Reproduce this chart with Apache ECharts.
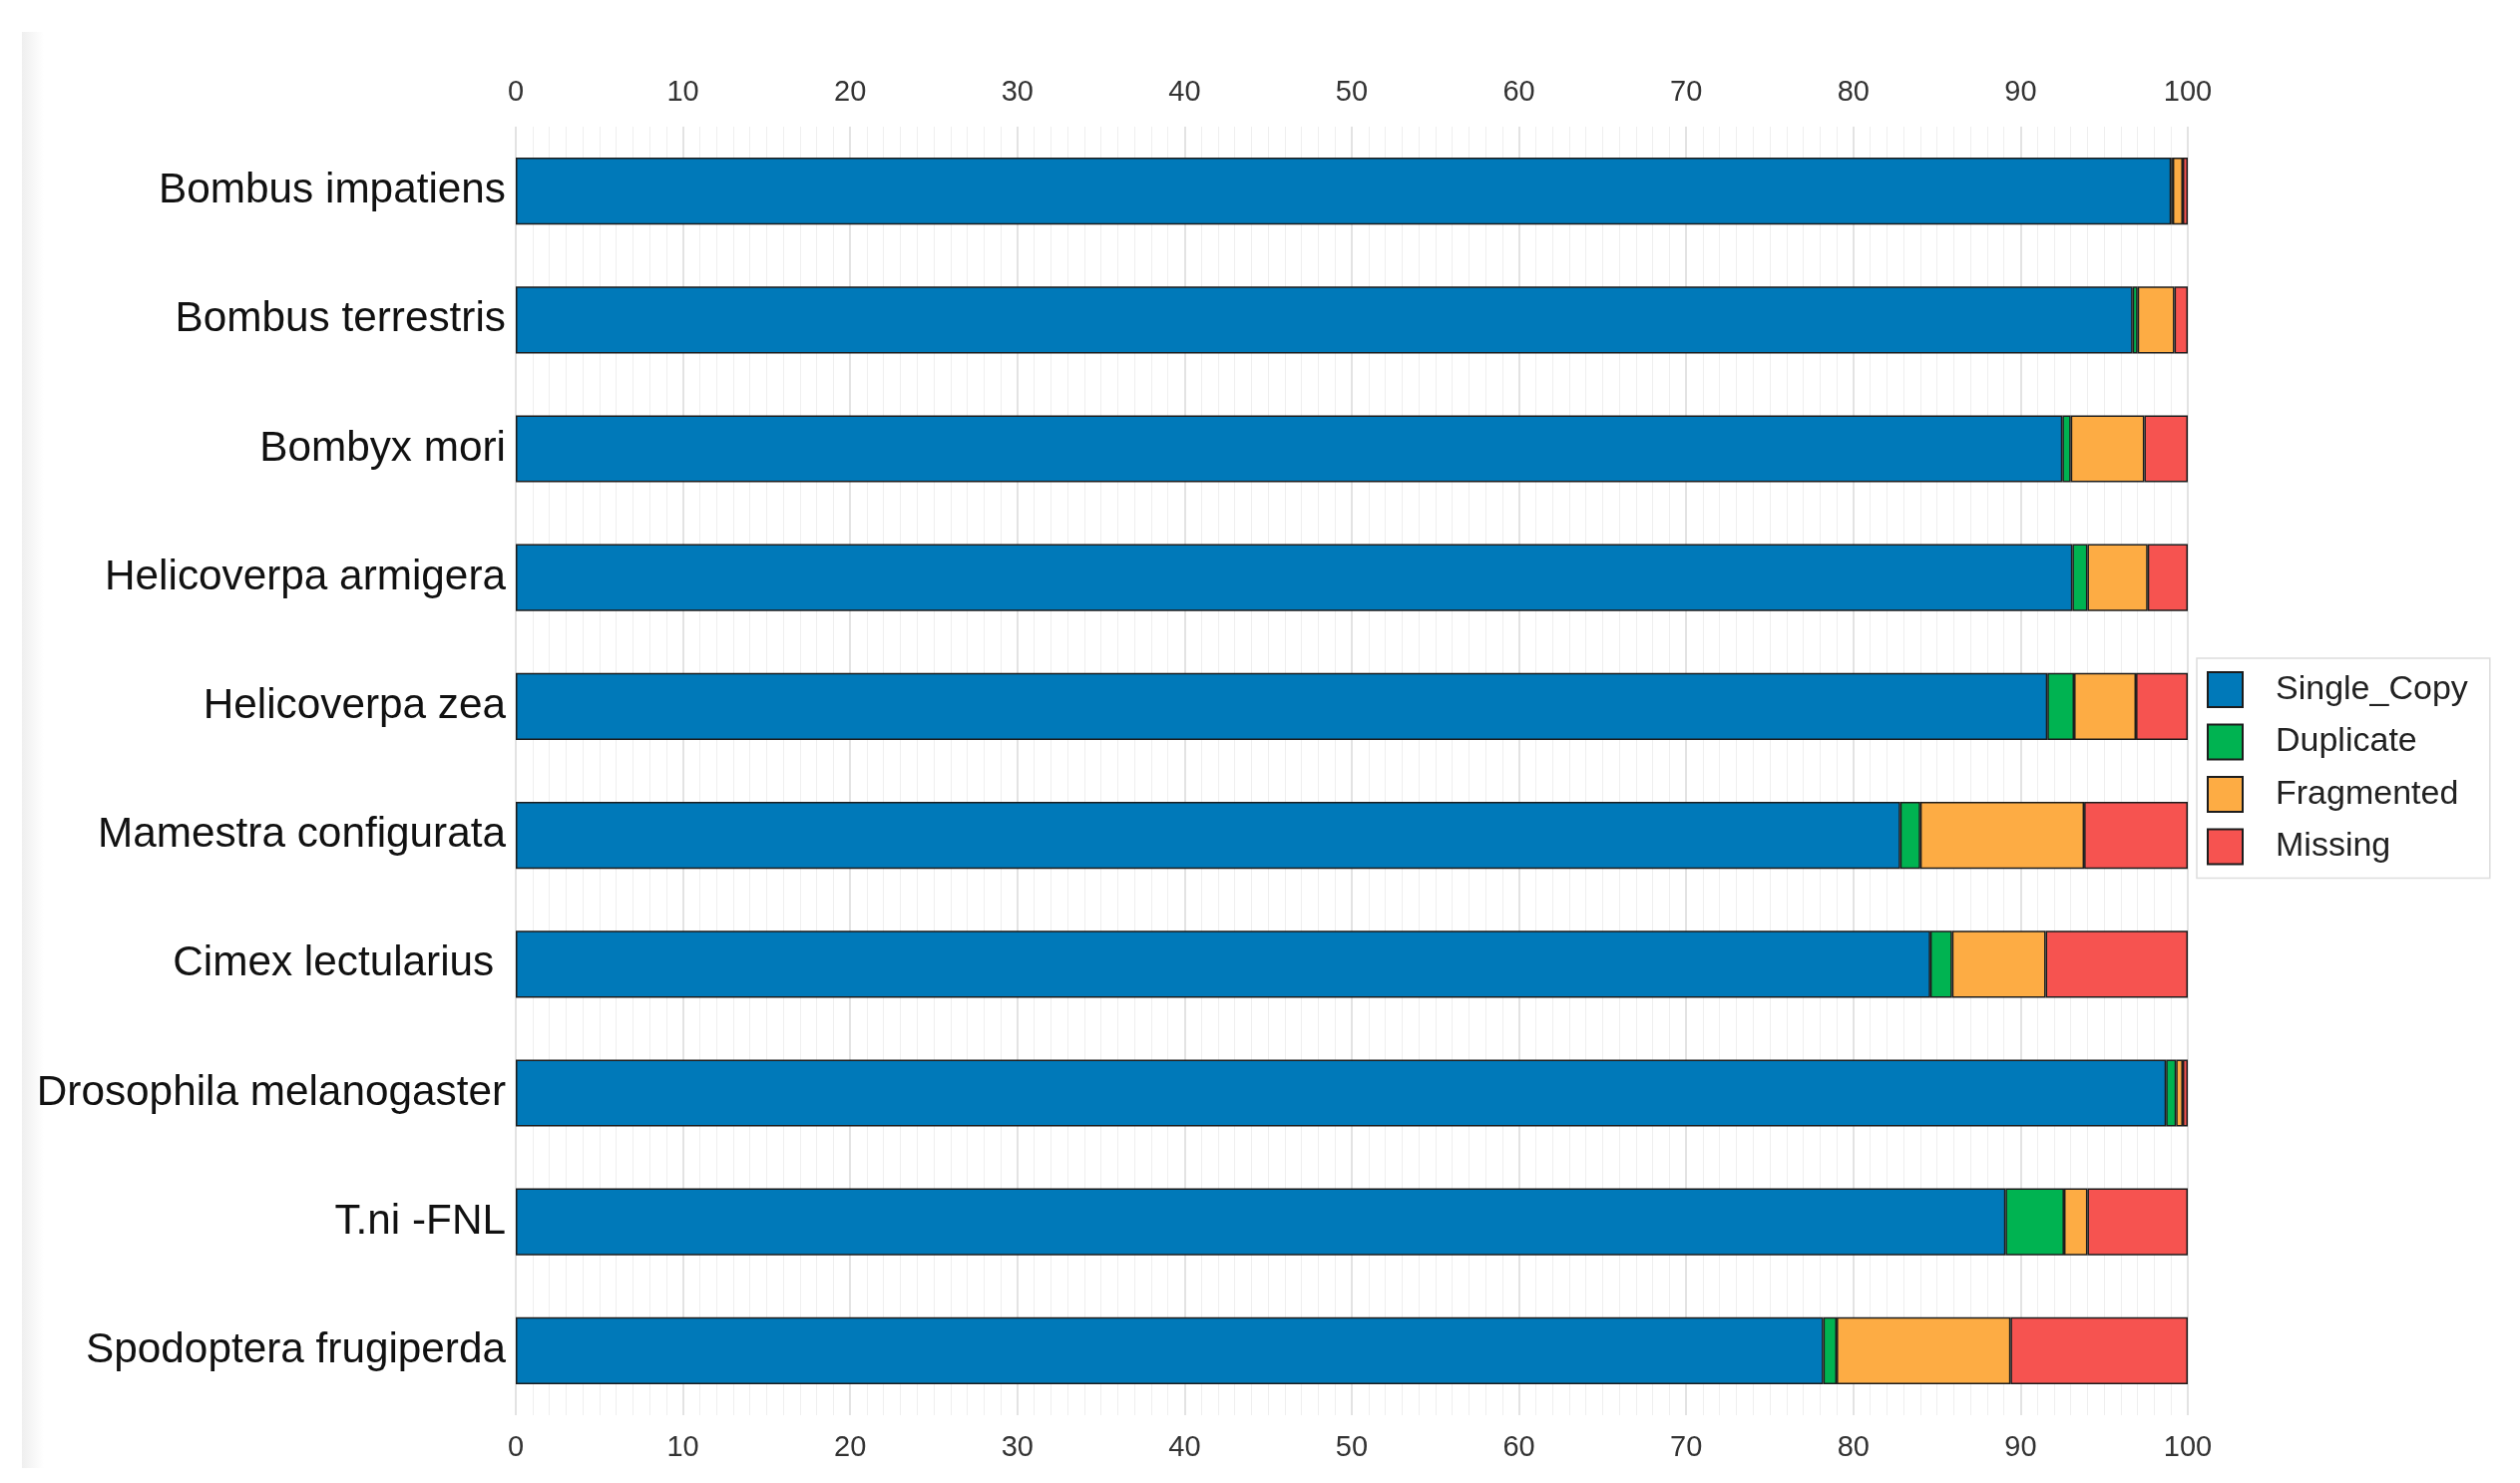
<!DOCTYPE html>
<html>
<head>
<meta charset="utf-8">
<script src="https://cdn.jsdelivr.net/npm/echarts@6/dist/echarts.min.js"></script>
<style>
  html, body { margin: 0; padding: 0; background: #fff; }
  #main { width: 2526px; height: 1487px; }
</style>
</head>
<body>
<div id="main"></div>
<script>
// species (top to bottom)
var species = ['Bombus impatiens', 'Bombus terrestris', 'Bombyx mori', 'Helicoverpa armigera',
  'Helicoverpa zea', 'Mamestra configurata', 'Cimex lectularius ', 'Drosophila melanogaster',
  'T.ni -FNL', 'Spodoptera frugiperda'];

// BUSCO percentages
var singleCopy = [99.0, 96.7, 92.5, 93.1, 91.6, 82.8, 84.6, 98.7, 89.1, 78.2];
var duplicate  = [0.1, 0.3, 0.5, 0.9, 1.6, 1.2, 1.3, 0.6, 3.5, 0.8];
var fragmented = [0.6, 2.2, 4.4, 3.6, 3.7, 9.8, 5.6, 0.4, 1.4, 10.4];
var missing    = [0.3, 0.8, 2.6, 2.4, 3.1, 6.2, 8.5, 0.3, 6.0, 10.6];

var seriesNames = ['Single_Copy', 'Duplicate', 'Fragmented', 'Missing'];
var colors = ['#0079B9', '#00B351', '#FDAC44', '#F65350'];

var chart = echarts.init(document.getElementById('main'));

function makeBar(name, data, color) {
  return {
    name: name,
    type: 'bar',
    stack: 'busco',
    xAxisIndex: 1,
    barWidth: '52%',
    data: data,
    itemStyle: { color: color, borderColor: '#1c1c1c', borderWidth: 1.5 }
  };
}

var tickFont = { fontFamily: 'Liberation Sans', fontSize: 29, color: '#333' };

option = {
  backgroundColor: '#fff',
  animation: false,
  color: colors,
  graphic: [{
    type: 'rect',
    shape: { x: 22, y: 32, width: 22, height: 1440 },
    style: {
      fill: new echarts.graphic.LinearGradient(0, 0, 1, 0, [
        { offset: 0, color: '#efefef' },
        { offset: 1, color: '#ffffff' }
      ])
    },
    z: -10
  }],
  grid: { left: 517, right: 333, top: 127, bottom: 68, containLabel: false },
  legend: {
    orient: 'vertical',
    left: 2202,
    top: 660,
    padding: [13, 22, 13, 10],
    icon: 'rect',
    itemWidth: 35,
    itemHeight: 35,
    itemGap: 15.5,
    borderColor: '#dddddd',
    borderWidth: 1.5,
    data: seriesNames,
    textStyle: { fontFamily: 'Liberation Sans', fontSize: 34, color: '#222', padding: [0, 0, 0, 28] }
  },
  xAxis: [
    {
      type: 'value', position: 'top', min: 0, max: 100, interval: 10,
      axisLine: { show: false }, axisTick: { show: false },
      axisLabel: Object.assign({ margin: 20 }, tickFont),
      splitLine: { show: false }
    },
    {
      type: 'value', position: 'bottom', min: 0, max: 100, interval: 10,
      axisLine: { show: false }, axisTick: { show: false },
      axisLabel: Object.assign({ margin: 18 }, tickFont),
      splitLine: { show: true, lineStyle: { color: '#dadada', width: 1.5 } },
      minorTick: { show: false, splitNumber: 10 },
      minorSplitLine: { show: true, lineStyle: { color: '#efefef', width: 1 } }
    }
  ],
  yAxis: {
    type: 'category',
    inverse: true,
    data: species,
    axisLine: { show: false }, axisTick: { show: false },
    axisLabel: { fontFamily: 'Liberation Sans', fontSize: 42.3, color: '#111', margin: 10 }
  },
  series: [
    makeBar(seriesNames[0], singleCopy, colors[0]),
    makeBar(seriesNames[1], duplicate, colors[1]),
    makeBar(seriesNames[2], fragmented, colors[2]),
    makeBar(seriesNames[3], missing, colors[3])
  ]
};

chart.setOption(option);
</script>
</body>
</html>
